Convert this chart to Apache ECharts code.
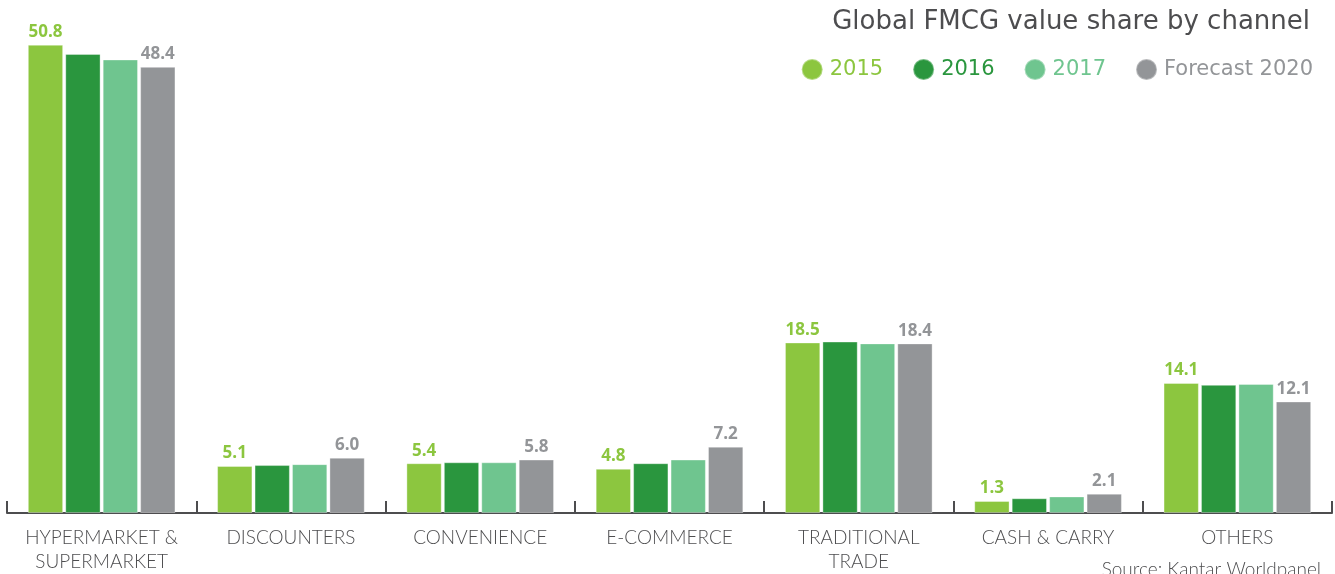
<!DOCTYPE html>
<html>
<head>
<meta charset="utf-8">
<script src="https://cdn.jsdelivr.net/npm/echarts@6/dist/echarts.min.js"></script>
<style>
html,body{margin:0;padding:0;background:#fff;}
#chart{width:1335px;height:574px;}
</style>
</head>
<body>
<div id="chart"></div>
<script>
const categories = ['HYPERMARKET &\nSUPERMARKET', 'DISCOUNTERS', 'CONVENIENCE', 'E-COMMERCE', 'TRADITIONAL\nTRADE', 'CASH & CARRY', 'OTHERS'];
const seriesNames = ['2015', '2016', '2017', 'Forecast 2020'];
const v2015 = [50.8, 5.1, 5.4, 4.8, 18.5, 1.3, 14.1];
const v2016 = [49.8, 5.2, 5.5, 5.4, 18.6, 1.6, 13.9];
const v2017 = [49.2, 5.3, 5.5, 5.8, 18.4, 1.8, 14.0];
const v2020 = [48.4, 6.0, 5.8, 7.2, 18.4, 2.1, 12.1];
const colors = ['#8cc63f', '#2a963e', '#6fc58f', '#939598'];

const HEAD = '"DejaVu Sans", "Open Sans", sans-serif';
const LIGHT = 'Lato, "Open Sans", sans-serif';
const BOLD = '"Open Sans", Lato, sans-serif';
const chart = echarts.init(document.getElementById('chart'));
const values = [v2015, v2016, v2017, v2020];

chart.setOption({
  animation: false,
  title: {
    text: 'Global FMCG value share by channel',
    right: 20, top: 4,
    textStyle: { fontFamily: HEAD, fontSize: 26, fontWeight: 'normal', color: '#4d4d4f' }
  },
  legend: {
    right: 17, top: 53,
    icon: 'circle',
    itemWidth: 21, itemHeight: 21,
    itemGap: 29,
    data: seriesNames.map((n, i) => ({ name: n, textStyle: { color: colors[i] } })),
    textStyle: { fontFamily: HEAD, fontSize: 21, padding: [0, 0, 0, 2] }
  },
  grid: { left: 7, right: 3, top: 6, bottom: 60, containLabel: false },
  xAxis: {
    type: 'category',
    data: categories,
    boundaryGap: true,
    axisLine: { lineStyle: { color: '#4d4d4f', width: 2 } },
    axisTick: { show: true, inside: true, length: 12, lineStyle: { color: '#4d4d4f', width: 2 } },
    axisLabel: { fontFamily: LIGHT, fontSize: 19, fontWeight: 300, color: '#4d4d4f', lineHeight: 24, margin: 13, interval: 0 }
  },
  yAxis: { type: 'value', min: 0, max: 55, show: false },
  graphic: [{
    type: 'text', right: 14, bottom: -5,
    style: { text: 'Source: Kantar Worldpanel', font: '300 19px ' + LIGHT, fill: '#4d4d4f' }
  }],
  series: seriesNames.map((n, i) => ({
    name: n,
    type: 'bar',
    data: values[i],
    barCategoryGap: '22%',
    barGap: '6%',
    itemStyle: { color: colors[i], borderColor: 'rgba(255,255,255,0.35)', borderWidth: 1 },
    label: {
      show: i === 0 || i === 3,
      position: 'top',
      distance: 4,
      formatter: p => p.value.toFixed(1),
      fontFamily: BOLD, fontSize: 17, fontWeight: 'bold',
      color: colors[i]
    }
  }))
});
</script>
</body>
</html>
